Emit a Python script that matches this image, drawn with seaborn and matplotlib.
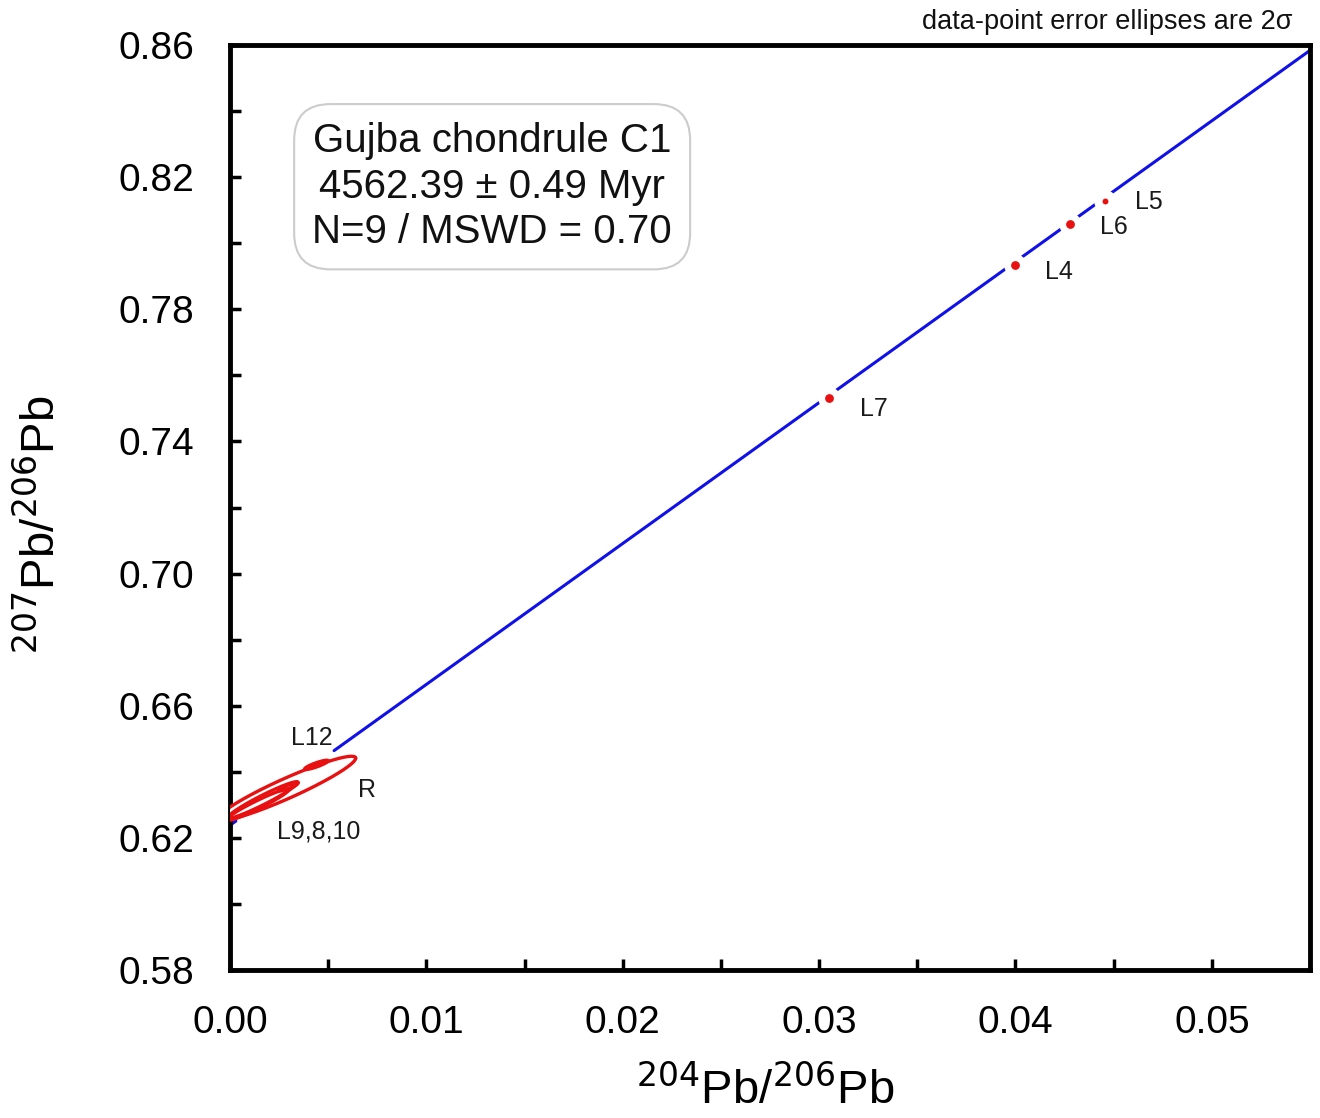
import numpy as np
import pandas as pd
import matplotlib
matplotlib.use("Agg")
import matplotlib.pyplot as plt
import seaborn as sns
from matplotlib.ticker import FixedLocator, FormatStrFormatter

# ---- data ----
point_names = ["L7", "L4", "L6", "L5"]
point_x = [0.0305, 0.0400, 0.0428, 0.04455]
point_y = [0.7530, 0.7934, 0.8059, 0.8128]
point_size = [40, 40, 40, 18]

ell_names = ["R", "L9", "L8", "L10", "L12"]
ell_cx = [0.0029, 0.00168, 0.0014, 0.00295, 0.0044]
ell_cy = [0.6350, 0.6315, 0.6300, 0.6354, 0.6421]
ell_hx = [0.0035, 0.00178, 0.0016, 0.0005, 0.0006]
ell_hy = [0.0097, 0.0055, 0.0048, 0.0012, 0.0014]
ell_rho = [0.94, 0.96, 0.96, 0.88, 0.88]

iso_intercept = 0.6238
iso_slope = 4.265
iso_segments = [[0.0, 0.0003], [0.0053, 0.055]]

label_text = ["L12", "R", "L9,8,10", "L7", "L4", "L6", "L5"]
label_x = [0.00415, 0.0070, 0.0045, 0.0328, 0.0422, 0.0450, 0.0468]
label_y = [0.6501, 0.6345, 0.6220, 0.7499, 0.7913, 0.8050, 0.8125]

x_ticks = [0.00, 0.01, 0.02, 0.03, 0.04, 0.05]
x_minor = [0.005, 0.015, 0.025, 0.035, 0.045]
y_ticks = [0.58, 0.62, 0.66, 0.70, 0.74, 0.78, 0.82, 0.86]
y_minor = [0.60, 0.64, 0.68, 0.72, 0.76, 0.80, 0.84]

# ---- plotting ----
sns.set_style("white")
plt.rcParams['font.family'] = ['Liberation Sans', 'DejaVu Sans']
plt.rcParams['text.color'] = 'black'
plt.rcParams['axes.labelcolor'] = 'black'
plt.rcParams['xtick.color'] = 'black'
plt.rcParams['ytick.color'] = 'black'

fig = plt.figure(figsize=(13.2, 11.18), dpi=100)
ax = fig.add_axes([230/1320, 1-970/1118, 1080/1320, 925/1118])

for seg in iso_segments:
    seg_df = pd.DataFrame({"x": seg, "y": [iso_intercept + iso_slope * v for v in seg]})
    sns.lineplot(data=seg_df, x="x", y="y", ax=ax, color="#1010e8", linewidth=2.2, zorder=2)

# white halos around points (gaps in the isochron)
pts = pd.DataFrame({"x": point_x, "y": point_y, "name": point_names})
sns.scatterplot(data=pts, x="x", y="y", ax=ax, color="white", s=260, linewidth=0, zorder=3)
for xx, yy, ss in zip(point_x, point_y, point_size):
    ax.scatter([xx], [yy], s=ss, color="#e81010", linewidth=0, zorder=4)

# error ellipses
t = np.linspace(0, 2*np.pi, 300)
shapes = []
for cx, cy, hx, hy, r in zip(ell_cx, ell_cy, ell_hx, ell_hy, ell_rho):
    ex = cx + hx*np.cos(t)
    ey = cy + hy*(r*np.cos(t) + np.sqrt(1-r*r)*np.sin(t))
    shapes.append((ex, ey))
for ex, ey in shapes:
    ax.fill(ex, ey, color="white", zorder=5, linewidth=0)
for ex, ey in shapes:
    ax.plot(ex, ey, color="#e81010", linewidth=2.4, zorder=6)

for txt, xx, yy in zip(label_text, label_x, label_y):
    ax.text(xx, yy, txt, fontsize=18, ha="center", va="center", color="#1a1a1a", zorder=7,
            family=['Liberation Sans Narrow', 'Liberation Sans', 'DejaVu Sans'])

ax.set_xlim(0, 0.055)
ax.set_ylim(0.58, 0.86)
ax.xaxis.set_major_locator(FixedLocator(x_ticks))
ax.xaxis.set_minor_locator(FixedLocator(x_minor))
ax.yaxis.set_major_locator(FixedLocator(y_ticks))
ax.yaxis.set_minor_locator(FixedLocator(y_minor))
ax.xaxis.set_major_formatter(FormatStrFormatter("%.2f"))
ax.yaxis.set_major_formatter(FormatStrFormatter("%.2f"))
ax.tick_params(axis="both", which="major", direction="in", length=8, width=2.5,
               labelsize=28, bottom=True, left=True, top=False, right=False, colors="black")
ax.tick_params(axis="y", which="major", pad=26)
ax.tick_params(axis="x", which="major", pad=25)
ax.tick_params(axis="both", which="minor", direction="in", length=8, width=2.5,
               bottom=True, left=True, top=False, right=False)
for sp in ax.spines.values():
    sp.set_linewidth(3.5)
    sp.set_color("black")
    sp.set_visible(True)

ax.set_xlabel(r"$^{204}$Pb/$^{206}$Pb", fontsize=34)
ax.set_ylabel(r"$^{207}$Pb/$^{206}$Pb", fontsize=34)
ax.xaxis.set_label_coords((765-230)/1080, -(1066-970)/925)
ax.yaxis.set_label_coords(-(230-64)/1080, (970-525)/925)

ax.text(0.01335, 0.8171, "Gujba chondrule C1\n4562.39 \u00b1 0.49 Myr\nN=9 / MSWD = 0.70",
        fontsize=29, ha="center", va="center", linespacing=1.25, zorder=8, color="#111111",
        bbox=dict(boxstyle="round,pad=0.45,rounding_size=0.9", fc="white", ec="#cccccc", lw=1.5))

fig.text(1292/1320, 1-22/1118, "data-point error ellipses are 2\u03c3", fontsize=19.5,
         ha="right", va="center", color="#111111")

fig.savefig("out.png", dpi=100, facecolor="white")
